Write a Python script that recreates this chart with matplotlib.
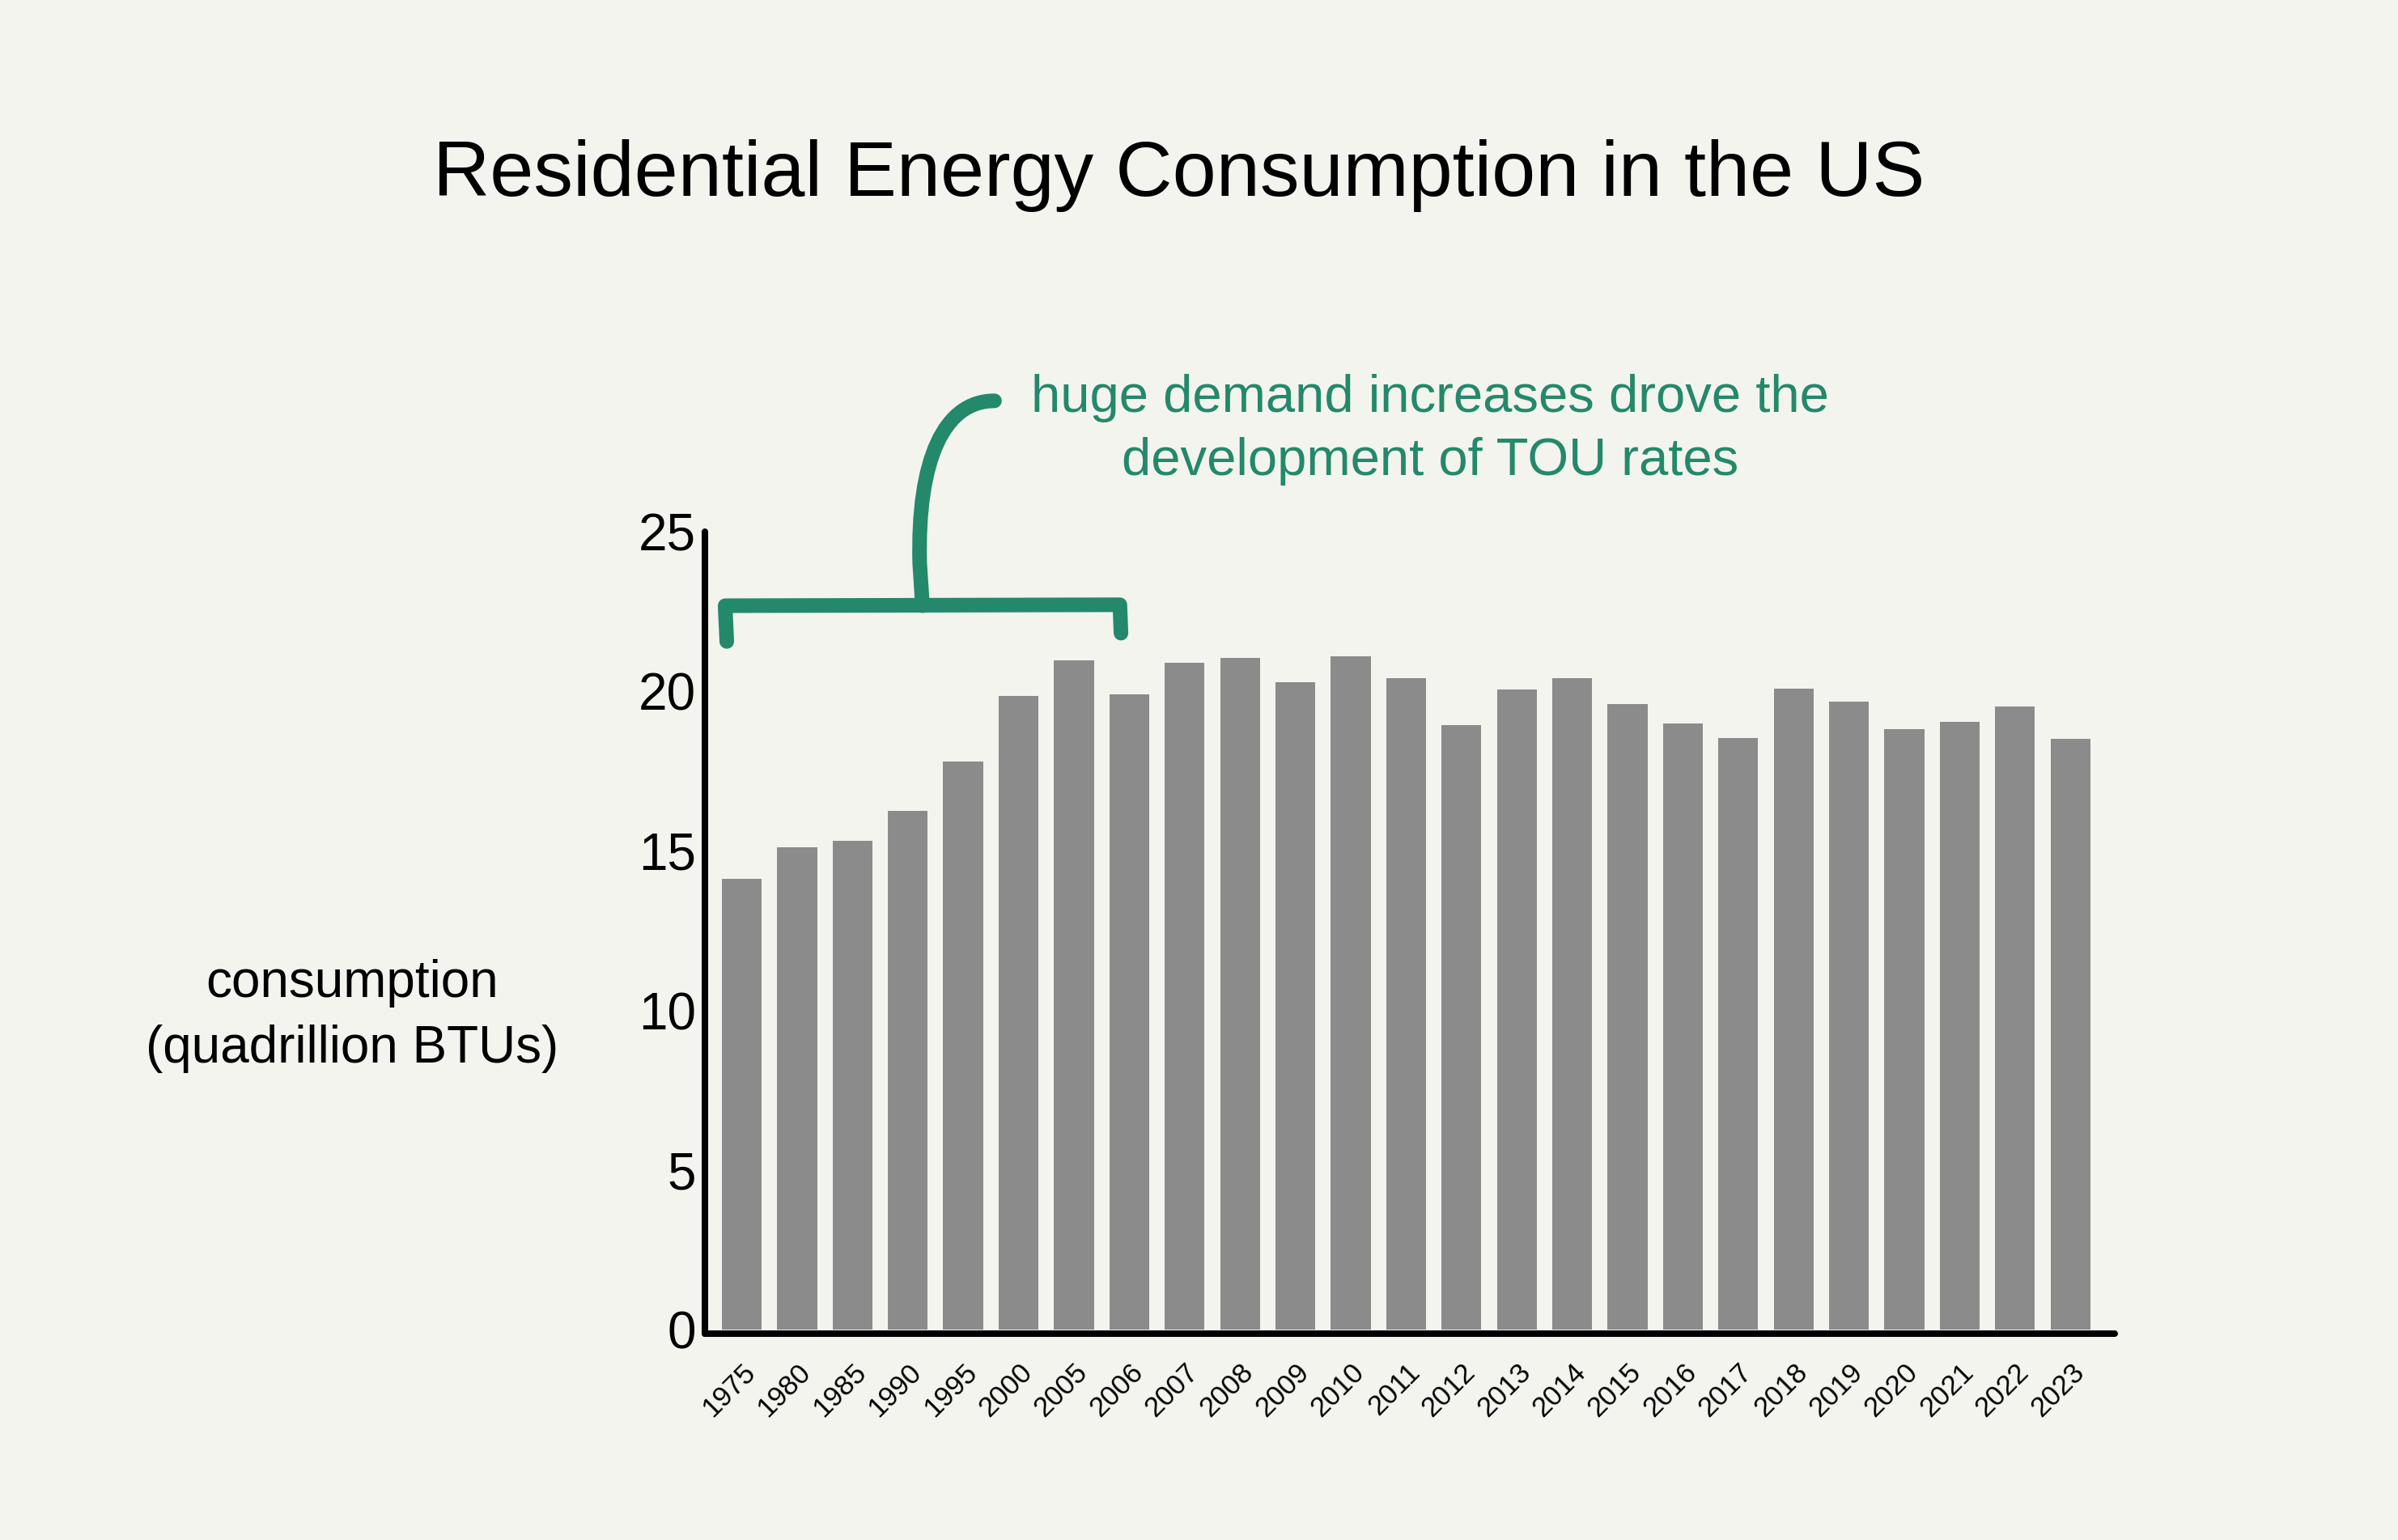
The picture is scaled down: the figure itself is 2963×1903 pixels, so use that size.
import numpy as np
import matplotlib
matplotlib.use('Agg')
import matplotlib.pyplot as plt
from matplotlib.path import Path
from matplotlib.patches import PathPatch

# data
years = ['1975', '1980', '1985', '1990', '1995', '2000', '2005', '2006', '2007',
         '2008', '2009', '2010', '2011', '2012', '2013', '2014', '2015', '2016',
         '2017', '2018', '2019', '2020', '2021', '2022', '2023']
consumption = [14.12, 15.12, 15.32, 16.26, 17.80, 19.85, 20.96, 19.90, 20.90,
               21.04, 20.29, 21.10, 20.40, 18.93, 20.05, 20.40, 19.60, 18.98,
               18.53, 20.07, 19.67, 18.82, 19.05, 19.52, 18.51]
y_ticks = [0, 5, 10, 15, 20, 25]

title = 'Residential Energy Consumption in the US'
y_label = 'consumption\n(quadrillion BTUs)'
note = 'huge demand increases drove the\ndevelopment of TOU rates'
bracket_from, bracket_to = '1975', '2006'

# style
BG = '#F4F4EF'
BAR = '#8B8B8B'
GREEN = '#23896A'
FONT = 'Liberation Sans'

plt.rcParams['font.family'] = FONT

fig = plt.figure(figsize=(29.63, 19.03), dpi=100)
fig.patch.set_facecolor(BG)
ax = fig.add_axes([871 / 2963, 1 - 1648 / 1903, (2613 - 871) / 2963, (1648 - 657) / 1903])
ax.set_facecolor(BG)

x = np.arange(len(years))
ax.bar(x, consumption, width=0.72, color=BAR, edgecolor='none', zorder=2)

ax.set_xlim(-0.665, 24.8)
ax.set_ylim(-0.13, 25)

for side in ['top', 'right']:
    ax.spines[side].set_visible(False)
for side in ['left', 'bottom']:
    ax.spines[side].set_linewidth(5.8)
    ax.spines[side].set_color('black')
    ax.spines[side].set_capstyle('round')
    ax.spines[side].set_zorder(3)

ax.set_yticks(y_ticks)
ax.set_yticklabels([str(v) for v in y_ticks], fontsize=46)
ax.tick_params(axis='y', length=0, pad=8)
ax.set_xticks(x)
ax.set_xticklabels(years, fontsize=25, rotation=45, ha='right', va='top',
                   rotation_mode='anchor')
ax.tick_params(axis='x', length=0, pad=22)

# titles and labels (baseline = last line for multi-line text)
fig.text(1457 / 2963, 1 - 242 / 1903, title, fontsize=70, ha='center', va='baseline')
fig.text(435 / 2963, 1 - 1313 / 1903, y_label, fontsize=46, ha='center', va='baseline',
         multialignment='center', linespacing=1.45)
fig.text(1767 / 2963, 1 - 587 / 1903, note, fontsize=47, color=GREEN, ha='center',
         va='baseline', multialignment='center', linespacing=1.38)

# bracket over the early years
i0, i1 = years.index(bracket_from), years.index(bracket_to)
x0, x1 = i0 - 0.30, i1 - 0.17
yb = 22.68
ax.plot([x0 + 0.03, x0, x1, x1 + 0.02], [21.56, yb, yb + 0.03, 21.82],
        color=GREEN, lw=13, solid_capstyle='round', solid_joinstyle='round',
        clip_on=False, zorder=4)
xs = x0 + 0.5 * (x1 - x0)
stem = Path([(xs, yb), (xs - 0.05, 24.0), (xs - 0.10, 27.3), (xs + 0.40, 29.1),
             (xs + 1.30, 29.1)],
            [Path.MOVETO, Path.LINETO, Path.CURVE4, Path.CURVE4, Path.CURVE4])
ax.add_patch(PathPatch(stem, facecolor='none', edgecolor=GREEN, lw=13,
                       capstyle='round', clip_on=False, zorder=4))

fig.savefig('out.png', dpi=100, facecolor=BG)
